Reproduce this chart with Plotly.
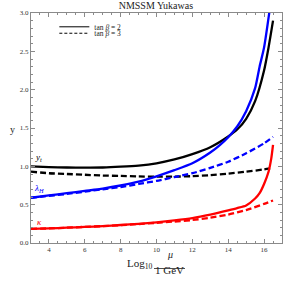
import plotly.graph_objects as go

# log10(mu / 1 GeV) grids and couplings
x_yt2 = [3, 4, 5, 6, 7, 8, 9, 10, 11, 12, 13, 14, 14.5, 15, 15.5, 16, 16.25, 16.5]
yt2 = [1.0, 0.99, 0.985, 0.983, 0.985, 0.995, 1.01, 1.04, 1.09, 1.16, 1.25, 1.39, 1.48, 1.62, 1.85, 2.25, 2.55, 2.9]

x_yt3 = [3, 4, 5, 6, 7, 8, 9, 10, 11, 12, 13, 14, 15, 16, 16.5]
yt3 = [0.93, 0.91, 0.90, 0.89, 0.88, 0.875, 0.868, 0.865, 0.866, 0.872, 0.885, 0.905, 0.93, 0.96, 0.98]

x_lam2 = [3, 4, 5, 6, 7, 8, 9, 10, 11, 12, 13, 13.5, 14, 14.5, 15, 15.5, 15.75, 16, 16.3]
lam2 = [0.59, 0.62, 0.65, 0.68, 0.71, 0.75, 0.80, 0.87, 0.95, 1.04, 1.18, 1.27, 1.38, 1.52, 1.72, 2.02, 2.3, 2.55, 3.02]

x_lam3 = [3, 4, 5, 6, 7, 8, 9, 10, 11, 12, 13, 14, 15, 16, 16.5]
lam3 = [0.59, 0.615, 0.64, 0.67, 0.70, 0.73, 0.77, 0.81, 0.86, 0.91, 0.98, 1.06, 1.17, 1.30, 1.385]

x_kap2 = [3, 4, 5, 6, 7, 8, 9, 10, 11, 12, 13, 14, 14.5, 15, 15.5, 15.75, 16, 16.25, 16.4, 16.5]
kap2 = [0.185, 0.19, 0.2, 0.21, 0.22, 0.235, 0.25, 0.27, 0.295, 0.325, 0.37, 0.425, 0.455, 0.49, 0.58, 0.65, 0.77, 0.93, 1.1, 1.28]

x_kap3 = [3, 4, 5, 6, 7, 8, 9, 10, 11, 12, 13, 14, 15, 16, 16.5]
kap3 = [0.185, 0.19, 0.2, 0.21, 0.22, 0.233, 0.247, 0.263, 0.28, 0.30, 0.33, 0.37, 0.43, 0.51, 0.555]

legend_names = ["tan <i>β</i> = 2", "tan <i>β</i> = 3"]

SERIF = "Liberation Serif"
BLUE = "#0000ff"
RED = "#ff0000"
DASH = "6px,3px"
LW = 2.3

fig = go.Figure()

series = [
    (x_yt2, yt2, "black", "solid"),
    (x_yt3, yt3, "black", DASH),
    (x_lam2, lam2, BLUE, "solid"),
    (x_lam3, lam3, BLUE, DASH),
    (x_kap2, kap2, RED, "solid"),
    (x_kap3, kap3, RED, DASH),
]
for xs, ys, c, d in series:
    fig.add_trace(go.Scatter(x=xs, y=ys, mode="lines", showlegend=False,
                             line=dict(color=c, width=LW, dash=d, shape="spline", smoothing=0.6)))

# legend entries
fig.add_trace(go.Scatter(x=[None], y=[None], mode="lines", name=legend_names[0],
                         line=dict(color="black", width=1), legend="legend"))
fig.add_trace(go.Scatter(x=[None], y=[None], mode="lines", name=legend_names[1],
                         line=dict(color="black", width=1, dash="3px,2px"), legend="legend2"))

legfont = dict(family=SERIF, size=7.5, color="#222")
axis_common = dict(showgrid=False, zeroline=False, showline=True, linecolor="#8a8a8a", linewidth=1,
                   mirror="ticks", ticks="inside", ticklen=4, tickcolor="#8a8a8a", tickwidth=1,
                   tickfont=dict(family=SERIF, size=7, color="#333"))

fig.update_layout(
    width=286, height=285,
    margin=dict(l=31, r=4, t=13, b=42),
    paper_bgcolor="white", plot_bgcolor="white",
    title=dict(text="NMSSM Yukawas", x=0.545, xanchor="center", y=0.982, yanchor="middle",
               font=dict(family=SERIF, size=10, color="#222")),
    xaxis=dict(range=[3, 17], tick0=0, dtick=2,
               minor=dict(ticks="inside", ticklen=2, dtick=0.5, tickcolor="#8a8a8a"),
               **axis_common),
    yaxis=dict(range=[0, 3], tick0=0, dtick=0.5, tickformat=".1f",
               minor=dict(ticks="inside", ticklen=2, dtick=0.1, tickcolor="#8a8a8a"),
               **axis_common),
    legend=dict(x=0.093, y=0.94, xanchor="left", yanchor="middle", bgcolor="rgba(0,0,0,0)",
                font=legfont, borderwidth=0, itemwidth=30),
    legend2=dict(x=0.093, y=0.912, xanchor="left", yanchor="middle", bgcolor="rgba(0,0,0,0)",
                 font=legfont, borderwidth=0, itemwidth=30),
)

# curve labels
fig.add_annotation(x=3.4, y=1.12, text="<i>y</i><sub><i>t</i></sub>", showarrow=False,
                   font=dict(family=SERIF, size=9, color="black"))
fig.add_annotation(x=3.45, y=0.71, text="<i>λ</i><sub><i>H</i></sub>", showarrow=False,
                   font=dict(family=SERIF, size=9, color=BLUE))
fig.add_annotation(x=3.45, y=0.27, text="<i>κ</i>", showarrow=False,
                   font=dict(family=SERIF, size=9, color=RED))

# axis titles
def px2paper_x(px):
    return (px - 31) / (286 - 31 - 4)

def py2paper_y(py):
    return (285 - 42 - py) / (285 - 13 - 42)

fig.add_annotation(xref="paper", yref="paper", x=px2paper_x(8), y=py2paper_y(129), text="y",
                   showarrow=False, font=dict(family=SERIF, size=10, color="#222"))
fig.add_annotation(xref="paper", yref="paper", x=px2paper_x(140), y=py2paper_y(273),
                   text="Log<sub>10</sub>", showarrow=False, font=dict(family=SERIF, size=11, color="#222"))
fig.add_annotation(xref="paper", yref="paper", x=px2paper_x(170), y=py2paper_y(262),
                   text="<i>μ</i>", showarrow=False, font=dict(family=SERIF, size=10, color="#222"))
fig.add_annotation(xref="paper", yref="paper", x=px2paper_x(169.5), y=py2paper_y(277.5),
                   text="1 GeV", showarrow=False, font=dict(family=SERIF, size=11, color="#222"))
fig.add_shape(type="line", xref="paper", yref="paper", x0=px2paper_x(154), x1=px2paper_x(185),
              y0=py2paper_y(268.5), y1=py2paper_y(268.5), line=dict(color="#222", width=0.8))

fig.write_html("out.html", config={"displayModeBar": False},
               post_script="document.body.style.margin='0';document.body.style.padding='0';")
